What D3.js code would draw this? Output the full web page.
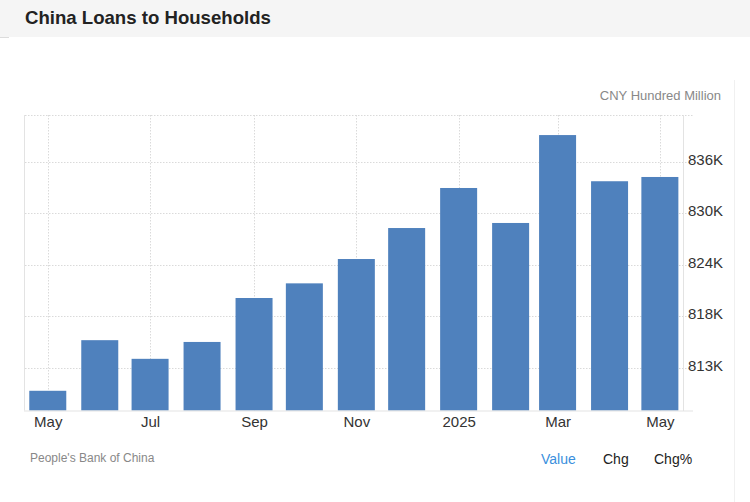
<!DOCTYPE html>
<html>
<head>
  <meta charset="UTF-8">
  <style>
    body { margin: 0; background: #fff; }
    svg { display: block; font-family: "Liberation Sans", Arial, sans-serif; }
  </style>
</head>
<body>
<svg></svg>
<script src="https://d3js.org/d3.v7.min.js"></script>
<script>

let width = 750, height = 502;

// data (CNY hundred million)
const months = ["2024-05", "2024-06", "2024-07", "2024-08", "2024-09", "2024-10", "2024-11",
                "2024-12", "2025-01", "2025-02", "2025-03", "2025-04", "2025-05"];
const values = [810000, 815700, 813600, 815500, 820450, 822100, 824840,
                828330, 832840, 828900, 838800, 833600, 834080];

const yTicks = [812600, 818400, 824200, 830000, 835800];
const yTickLabels = ["813K", "818K", "824K", "830K", "836K"];

const xTicks = ["2024-05", "2024-07", "2024-09", "2024-11", "2025-01", "2025-03", "2025-05"];
const xTickLabels = ["May", "Jul", "Sep", "Nov", "2025", "Mar", "May"];

const parseMonth = d3.utcParse("%Y-%m");

let svg = d3.select("svg")
    .attr("width", width)
    .attr("height", height)
    .attr("viewBox", "0 0 " + width + " " + height);

// header
svg.append("rect")
    .attr("x", 0).attr("y", 0)
    .attr("width", width).attr("height", 37)
    .attr("fill", "#f5f5f5");
svg.append("line")
    .attr("x1", 0).attr("x2", 9)
    .attr("y1", 37.5).attr("y2", 37.5)
    .attr("stroke", "#dcdcdc");
svg.append("text")
    .attr("x", 25).attr("y", 24)
    .attr("font-size", 18.6)
    .attr("font-weight", "bold")
    .attr("fill", "#222")
    .text("China Loans to Households");

// faint page border on the right
svg.append("line")
    .attr("x1", 734.5).attr("x2", 734.5)
    .attr("y1", 80).attr("y2", height)
    .attr("stroke", "#f0f0f0");

const plot = { left: 25, right: 683, top: 115, bottom: 410.5 };

let x = d3.scaleUtc()
    .domain([new Date(Date.UTC(2024, 3, 17, 10)), new Date(Date.UTC(2025, 4, 14, 19))])
    .range([plot.left, plot.right]);

let y = d3.scaleLinear()
    .domain([807780, 841060])
    .range([plot.bottom, plot.top]);

// grid
let grid = svg.append("g")
    .attr("stroke", "#dadada")
    .attr("stroke-dasharray", "1.5,1.5");

grid.selectAll(".hgrid")
    .data(yTicks.concat([y.invert(plot.top)]))
    .enter()
    .append("line")
    .attr("x1", plot.left).attr("x2", 693)
    .attr("y1", d => Math.round(y(d)) + 0.5)
    .attr("y2", d => Math.round(y(d)) + 0.5);

grid.selectAll(".vgrid")
    .data(xTicks)
    .enter()
    .append("line")
    .attr("x1", d => Math.round(x(parseMonth(d))) + 0.5)
    .attr("x2", d => Math.round(x(parseMonth(d))) + 0.5)
    .attr("y1", plot.top).attr("y2", plot.bottom);

// bars
const barWidth = 37;
svg.append("g")
    .selectAll("rect")
    .data(months)
    .enter()
    .append("rect")
    .attr("x", d => x(parseMonth(d)) - barWidth / 2)
    .attr("width", barWidth)
    .attr("y", (d, i) => y(values[i]))
    .attr("height", (d, i) => plot.bottom - y(values[i]))
    .attr("fill", "#4f81bd");

// frame lines
svg.append("line")
    .attr("x1", plot.left - 0.5).attr("x2", plot.left - 0.5)
    .attr("y1", plot.top).attr("y2", plot.bottom)
    .attr("stroke", "#e3e3e3");
svg.append("line")
    .attr("x1", plot.right + 0.5).attr("x2", plot.right + 0.5)
    .attr("y1", plot.top).attr("y2", plot.bottom + 0.5)
    .attr("stroke", "#e3e3e3");
svg.append("line")
    .attr("x1", plot.left - 1).attr("x2", 693)
    .attr("y1", plot.bottom + 0.5).attr("y2", plot.bottom + 0.5)
    .attr("stroke", "#e3e3e3");

// y axis on the right
let yAxis = svg.append("g")
    .attr("transform", "translate(" + plot.right + ",0)")
    .call(d3.axisRight(y)
        .tickValues(yTicks)
        .tickFormat((d, i) => yTickLabels[i])
        .tickSize(0)
        .tickPadding(5));
yAxis.select(".domain").remove();
yAxis.selectAll("text")
    .attr("dy", "0.17em")
    .attr("font-size", 15)
    .attr("font-family", "Liberation Sans, Arial, sans-serif")
    .attr("fill", "#333");

// x axis
let xAxis = svg.append("g")
    .attr("transform", "translate(0," + plot.bottom + ")")
    .call(d3.axisBottom(x)
        .tickValues(xTicks.map(parseMonth))
        .tickFormat((d, i) => xTickLabels[i])
        .tickSize(0)
        .tickPadding(5.5));
xAxis.select(".domain").remove();
xAxis.selectAll("text")
    .attr("font-size", 15)
    .attr("font-family", "Liberation Sans, Arial, sans-serif")
    .attr("fill", "#333");

// unit label
svg.append("text")
    .attr("x", 721).attr("y", 99.5)
    .attr("text-anchor", "end")
    .attr("font-size", 13)
    .attr("fill", "#888")
    .text("CNY Hundred Million");

// footer
svg.append("text")
    .attr("x", 30).attr("y", 462)
    .attr("font-size", 12)
    .attr("fill", "#888")
    .text("People's Bank of China");

const tabs = ["Value", "Chg", "Chg%"];
const tabX = [541, 603, 654];
svg.append("g")
    .selectAll("text")
    .data(tabs)
    .enter()
    .append("text")
    .attr("x", (d, i) => tabX[i])
    .attr("y", 463.5)
    .attr("font-size", 14)
    .attr("fill", (d, i) => i === 0 ? "#3a8fdd" : "#222")
    .text(d => d);

</script>
</body>
</html>
